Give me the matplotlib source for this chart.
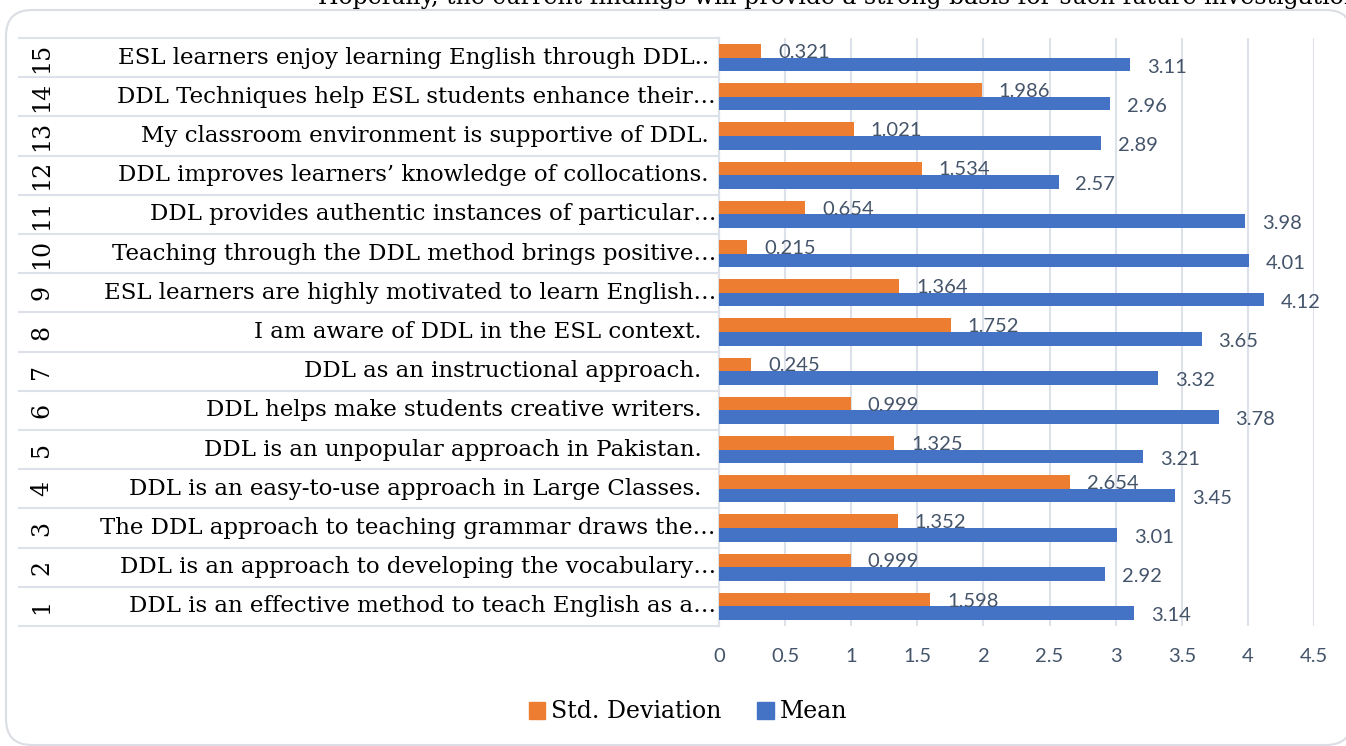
import matplotlib
matplotlib.use('Agg')
import matplotlib.pyplot as plt
import matplotlib.transforms as mtransforms
from matplotlib.patches import FancyBboxPatch, Patch
import numpy as np

# survey items, bottom (1) to top (15)
item_no = [str(i) for i in range(1, 16)]
item_text = [
    "DDL is an effective method to teach English as a…",
    "DDL is an approach to developing the vocabulary…",
    "The DDL approach to teaching grammar draws the…",
    "DDL is an easy-to-use approach in Large Classes.  ",
    "DDL is an unpopular approach in Pakistan.  ",
    "DDL helps make students creative writers.  ",
    "DDL as an instructional approach.  ",
    "I am aware of DDL in the ESL context.  ",
    "ESL learners are highly motivated to learn English…",
    "Teaching through the DDL method brings positive…",
    "DDL provides authentic instances of particular…",
    "DDL improves learners’ knowledge of collocations. ",
    "My classroom environment is supportive of DDL. ",
    "DDL Techniques help ESL students enhance their…",
    "ESL learners enjoy learning English through DDL.. ",
]
std_dev = [1.598, 0.999, 1.352, 2.654, 1.325, 0.999, 0.245, 1.752,
           1.364, 0.215, 0.654, 1.534, 1.021, 1.986, 0.321]
mean = [3.14, 2.92, 3.01, 3.45, 3.21, 3.78, 3.32, 3.65,
        4.12, 4.01, 3.98, 2.57, 2.89, 2.96, 3.11]
std_labels = ["1.598", "0.999", "1.352", "2.654", "1.325", "0.999", "0.245", "1.752",
              "1.364", "0.215", "0.654", "1.534", "1.021", "1.986", "0.321"]
mean_labels = ["3.14", "2.92", "3.01", "3.45", "3.21", "3.78", "3.32", "3.65",
               "4.12", "4.01", "3.98", "2.57", "2.89", "2.96", "3.11"]
xticks = [0, 0.5, 1, 1.5, 2, 2.5, 3, 3.5, 4, 4.5]
xtick_labels = ["0", "0.5", "1", "1.5", "2", "2.5", "3", "3.5", "4", "4.5"]

ORANGE = '#ED7D31'
BLUE = '#4472C4'
TXT = '#44546A'
GRID = '#DCE1EA'
SERIF = 'DejaVu Serif'
SANS = 'Lato'

W, H = 1346, 746
fig = plt.figure(figsize=(W / 100, H / 100), dpi=100)

# outer rounded frame (pixel coords), right side runs off the picture
frame = FancyBboxPatch((6, 1), 1346, 735, boxstyle="round,pad=0,rounding_size=26",
                       transform=None, facecolor='white', edgecolor='#DADDE3', lw=1.5,
                       zorder=-5)
fig.patches.append(frame)

# text of the page above, cut at the top
fig.text(318 / W, 1 - 4 / H, "Hopefully, the current findings will provide a strong basis for such future investigation",
         family=SERIF, fontsize=17, va='baseline', ha='left', color='black')

ax = fig.add_axes([719 / W, 1 - 626 / H, (1314 - 719) / W, (626 - 38) / H])
ax.patch.set_alpha(0)
y = np.arange(len(item_no))
bh = 0.345
ax.barh(y + bh / 2, std_dev, height=bh, color=ORANGE, zorder=3)
ax.barh(y - bh / 2, mean, height=bh, color=BLUE, zorder=3)

for yi, v, lab in zip(y, std_dev, std_labels):
    ax.annotate(lab, (v, yi + bh / 2), xytext=(12, -1), textcoords='offset points',
                va='center', ha='left', family=SANS, fontsize=14.5, color=TXT, zorder=4)
for yi, v, lab in zip(y, mean, mean_labels):
    ax.annotate(lab, (v, yi - bh / 2), xytext=(12, -2), textcoords='offset points',
                va='center', ha='left', family=SANS, fontsize=14.5, color=TXT, zorder=4)

ax.set_xlim(0, 4.5)
ax.set_ylim(-0.5, len(item_no) - 0.5)
ax.set_xticks(xticks)
ax.set_xticklabels(xtick_labels, family=SANS, fontsize=14.5, color=TXT)
ax.tick_params(axis='x', length=0, pad=16)
ax.set_yticks([])
ax.grid(axis='x', color=GRID, lw=1.5, zorder=0)
for s in ['top', 'right', 'bottom']:
    ax.spines[s].set_visible(False)
ax.spines['left'].set_color(GRID)
ax.spines['left'].set_linewidth(1.5)

# category table on the left
tr = mtransforms.blended_transform_factory(fig.transFigure, ax.transData)
for b in np.arange(-0.5, len(item_no), 1.0):
    ax.plot([19 / W, 719 / W], [b, b], transform=tr, color=GRID, lw=1.5, clip_on=False)
for yi, num, txt in zip(y, item_no, item_text):
    ax.text(42 / W, yi, num, transform=tr, rotation=90, ha='center', va='center',
            family=SERIF, fontsize=17, color='black')
    ax.text(716 / W, yi, txt, transform=tr, ha='right', va='center',
            family=SERIF, fontsize=16.5, color='black')

handles = [Patch(color=ORANGE, label='Std. Deviation'), Patch(color=BLUE, label='Mean')]
fig.legend(handles=handles, loc='center', bbox_to_anchor=(688 / W, 1 - 712 / H), ncol=2,
           frameon=False, prop={'family': SERIF, 'size': 17}, handlelength=0.7,
           handleheight=0.7, handletextpad=0.25, columnspacing=1.5)

fig.savefig('out.png', dpi=100)
